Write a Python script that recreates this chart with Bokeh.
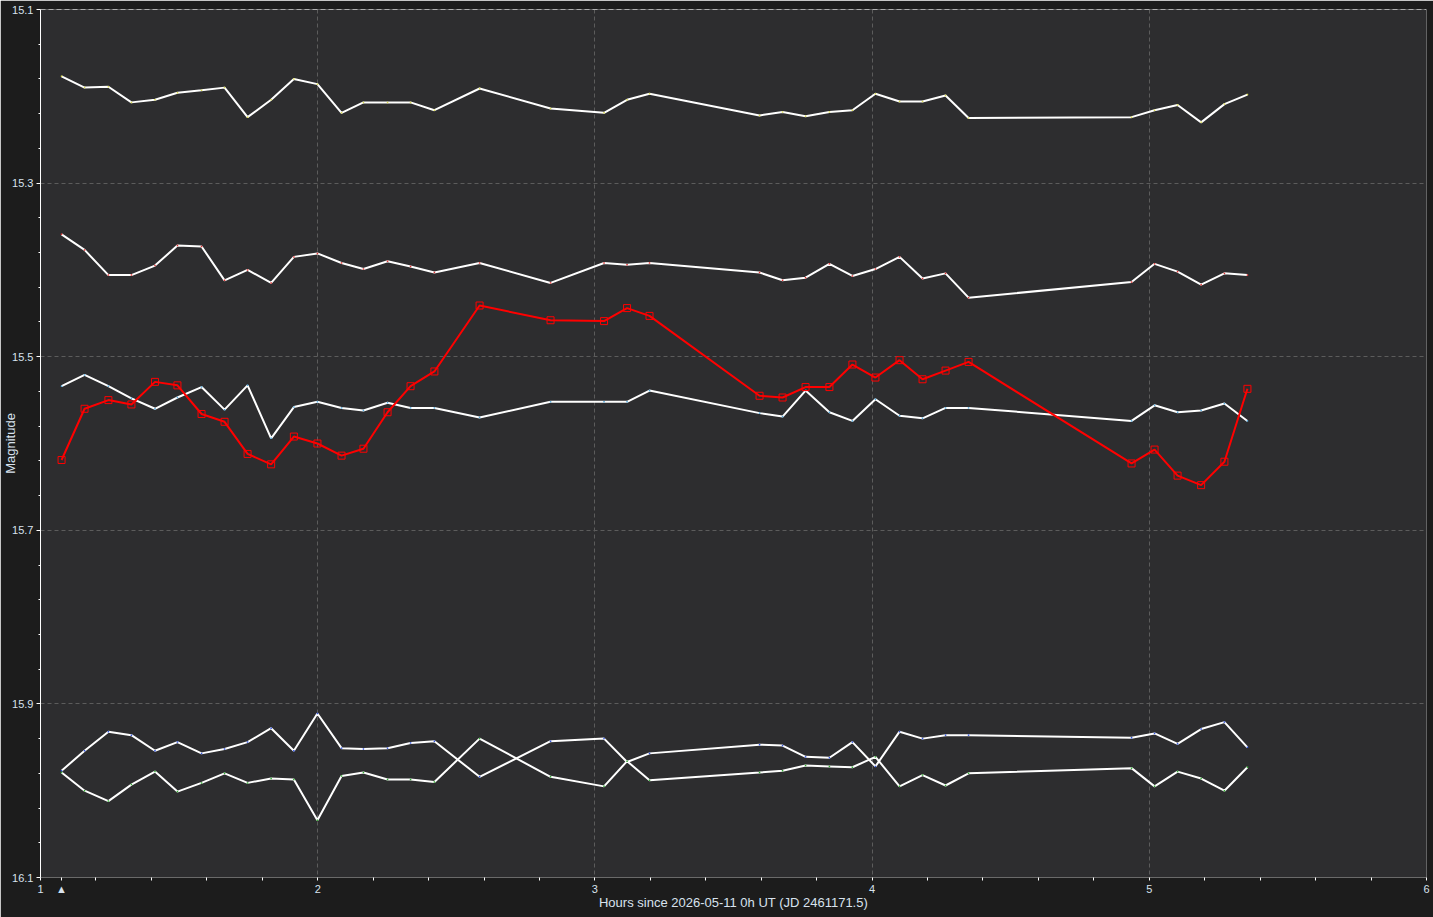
from bokeh.plotting import figure
from bokeh.models import Range1d, FixedTicker, Span
from bokeh.embed import file_html
from bokeh.resources import INLINE

# ---- data ----
hours = [1.076, 1.159, 1.245, 1.328, 1.413, 1.494, 1.581, 1.664, 1.747, 1.832,
         1.914, 1.999, 2.086, 2.165, 2.252, 2.335, 2.421, 2.584, 2.840, 3.033,
         3.116, 3.197, 3.594, 3.677, 3.760, 3.846, 3.929, 4.012, 4.099, 4.182,
         4.265, 4.348, 4.936, 5.019, 5.102, 5.187, 5.271, 5.354]

target = [15.619, 15.560, 15.550, 15.555, 15.529, 15.533, 15.566, 15.575, 15.612, 15.624,
          15.592, 15.600, 15.614, 15.606, 15.564, 15.534, 15.517, 15.441, 15.458, 15.459,
          15.444, 15.453, 15.545, 15.547, 15.535, 15.535, 15.509, 15.524, 15.504, 15.526,
          15.516, 15.506, 15.623, 15.607, 15.637, 15.648, 15.621, 15.537]

comp1 = [15.177, 15.190, 15.189, 15.207, 15.204, 15.196, 15.193, 15.190, 15.224, 15.204,
         15.180, 15.186, 15.219, 15.207, 15.207, 15.207, 15.216, 15.191, 15.214, 15.219,
         15.204, 15.197, 15.222, 15.218, 15.223, 15.218, 15.216, 15.197, 15.206, 15.206,
         15.199, 15.225, 15.224, 15.216, 15.210, 15.230, 15.209, 15.198]

comp2 = [15.359, 15.377, 15.406, 15.406, 15.395, 15.372, 15.373, 15.412, 15.400, 15.415,
         15.385, 15.381, 15.392, 15.399, 15.390, 15.396, 15.403, 15.392, 15.415, 15.392,
         15.394, 15.392, 15.403, 15.412, 15.409, 15.393, 15.407, 15.399, 15.385, 15.410,
         15.404, 15.432, 15.414, 15.393, 15.402, 15.417, 15.404, 15.406]

comp3 = [15.534, 15.521, 15.534, 15.548, 15.560, 15.547, 15.535, 15.561, 15.533, 15.594,
         15.558, 15.552, 15.559, 15.562, 15.553, 15.559, 15.559, 15.570, 15.552, 15.552,
         15.552, 15.539, 15.565, 15.569, 15.539, 15.564, 15.574, 15.549, 15.568, 15.571,
         15.559, 15.559, 15.574, 15.556, 15.564, 15.562, 15.554, 15.574]

comp4 = [15.977, 15.954, 15.932, 15.936, 15.954, 15.944, 15.957, 15.952, 15.944, 15.928,
         15.954, 15.911, 15.951, 15.952, 15.951, 15.945, 15.943, 15.984, 15.943, 15.940,
         15.967, 15.957, 15.947, 15.948, 15.961, 15.962, 15.944, 15.972, 15.932, 15.940,
         15.936, 15.936, 15.939, 15.934, 15.946, 15.929, 15.921, 15.950]

comp5 = [15.979, 16.000, 16.012, 15.993, 15.978, 16.001, 15.991, 15.980, 15.991, 15.986,
         15.987, 16.034, 15.983, 15.979, 15.987, 15.987, 15.990, 15.940, 15.984, 15.995,
         15.966, 15.988, 15.979, 15.977, 15.971, 15.972, 15.973, 15.961, 15.995, 15.982,
         15.994, 15.980, 15.974, 15.995, 15.978, 15.986, 16.000, 15.973]

x_ticks = [1, 2, 3, 4, 5, 6]
x_labels = ["1", "2", "3", "4", "5", "6"]
x_minor = [1.2, 1.4, 1.6, 1.8, 2.2, 2.4, 2.6, 2.8, 3.2, 3.4, 3.6, 3.8,
           4.2, 4.4, 4.6, 4.8, 5.2, 5.4, 5.6, 5.8]
y_ticks = [15.1, 15.3, 15.5, 15.7, 15.9, 16.1]
y_labels = ["15.1", "15.3", "15.5", "15.7", "15.9", "16.1"]
y_minor = [15.14, 15.18, 15.22, 15.26, 15.34, 15.38, 15.42, 15.46, 15.54, 15.58,
           15.62, 15.66, 15.74, 15.78, 15.82, 15.86, 15.94, 15.98, 16.02, 16.06]

x_label = "Hours since 2026-05-11 0h UT (JD 2461171.5)"
y_label = "Magnitude"
start_marker = "▲"   # marker under the x axis at the first observation

# ---- figure ----
TXT = "#d8e2ee"
p = figure(width=1433, height=917, output_backend="svg", toolbar_location=None,
           x_range=Range1d(1, 6), y_range=Range1d(16.1, 15.1),
           min_border_left=40, min_border_right=7, min_border_top=9, min_border_bottom=40,
           background_fill_color="#2d2d2f", border_fill_color="#1c1c1c",
           outline_line_color=None)
p.title.visible = False

# x axis: normal ticks plus the start-of-series marker as an extra tick label
p.xaxis.ticker = FixedTicker(ticks=x_ticks + [hours[0]], minor_ticks=x_minor)
overrides = {t: l for t, l in zip(x_ticks, x_labels)}
overrides[hours[0]] = start_marker
p.xaxis.major_label_overrides = overrides
p.xgrid.ticker = FixedTicker(ticks=x_ticks)

p.yaxis.ticker = FixedTicker(ticks=y_ticks, minor_ticks=y_minor)
p.yaxis.major_label_overrides = {t: l for t, l in zip(y_ticks, y_labels)}

for ax in (p.xaxis[0], p.yaxis[0]):
    ax.major_label_text_font = "Liberation Sans"
    ax.major_label_text_font_size = "11px"
    ax.major_label_text_color = TXT
    ax.axis_label_text_font = "Liberation Sans"
    ax.axis_label_text_font_size = "13px"
    ax.axis_label_text_font_style = "normal"
    ax.axis_label_text_color = TXT
    ax.major_tick_line_color = "white"
    ax.minor_tick_line_color = "white"
    ax.major_tick_in = 0
    ax.minor_tick_in = 0

p.xaxis.axis_label = x_label
p.yaxis.axis_label = y_label
p.yaxis.axis_label_standoff = -9
p.xaxis.axis_label_standoff = -3
p.yaxis.axis_line_color = "white"
p.xaxis.axis_line_color = "#6a6a6a"
p.yaxis.major_tick_out = 4
p.yaxis.minor_tick_out = 2
p.yaxis.major_label_standoff = 3
p.xaxis.major_tick_out = 3
p.xaxis.minor_tick_out = 3
p.xaxis.major_label_standoff = 2

p.xgrid.grid_line_color = "#5c5c5c"
p.ygrid.grid_line_color = "#5c5c5c"
p.xgrid.grid_line_dash = "4 3"
p.ygrid.grid_line_dash = "4 3"

p.add_layout(Span(location=15.1, dimension="width", line_color="white",
                  line_dash="5 3", line_width=1))
p.add_layout(Span(location=6, dimension="height", line_color="#6a6a6a", line_width=1))

# comparison stars (white)
dot_colors = ["#dddd55", "#dd3333", "#55aadd", "#3355dd", "#33aa33"]
for ys, dc in zip([comp1, comp2, comp3, comp4, comp5], dot_colors):
    p.line(hours, ys, line_color="white", line_width=2)
    p.scatter(hours, ys, marker="square", size=1.5, fill_color=dc, line_color=None)

# target star (red)
p.line(hours, target, line_color="#ff0000", line_width=2)
p.scatter(hours, target, marker="square", size=7, fill_color=None,
          line_color="#ff0000", line_width=1)

open("out.html", "w").write(file_html(p, INLINE))
